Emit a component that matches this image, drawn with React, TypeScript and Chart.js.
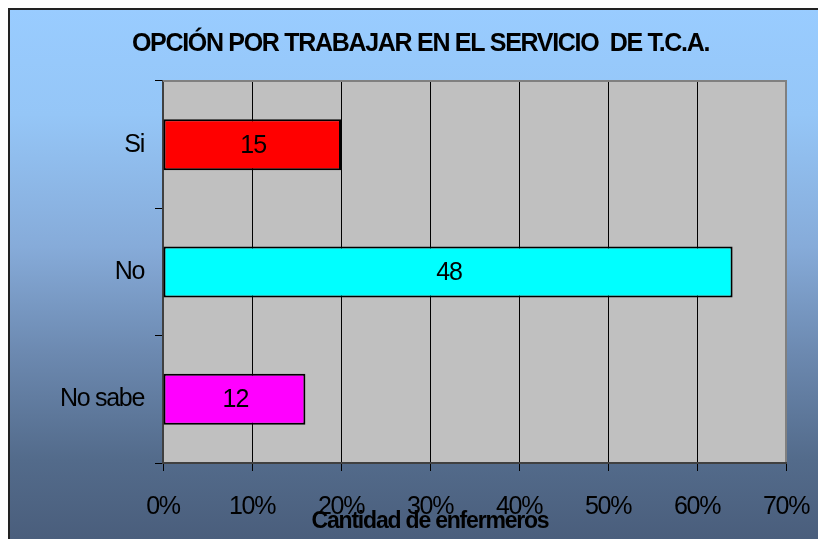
import React, { useEffect, useRef } from "react";
import { Chart, registerables } from "chart.js";

Chart.register(...registerables);

const categories = ["Si", "No", "No sabe"];
const counts = [15, 48, 12];
const percents = [20, 64, 16];
const barColors = ["#FF0000", "#00FFFF", "#FF00FF"];
const titleText = "OPCIÓN POR TRABAJAR EN EL SERVICIO  DE T.C.A.";
const xAxisTitle = "Cantidad de enfermeros";
const xMin = 0;
const xMax = 70;
const xStep = 10;

const FONT = "'Liberation Sans', Arial, sans-serif";
const LS = "-1.3px";

const spacingPlugin = {
  id: "spacing",
  beforeUpdate(chart: any) {
    chart.ctx.letterSpacing = LS;
  },
  beforeLayout(chart: any) {
    chart.ctx.letterSpacing = LS;
  },
  beforeDraw(chart: any) {
    const { ctx, width, height, chartArea } = chart;
    ctx.save();
    const g = ctx.createLinearGradient(0, 0, 0, height);
    g.addColorStop(0, "#99CCFF");
    g.addColorStop(0.2, "#95C6F7");
    g.addColorStop(0.45, "#86ABD9");
    g.addColorStop(0.65, "#6C89B0");
    g.addColorStop(0.85, "#536B8B");
    g.addColorStop(1, "#4A5E7C");
    ctx.fillStyle = g;
    ctx.fillRect(0, 0, width, height);
    ctx.strokeStyle = "#222";
    ctx.lineWidth = 2;
    ctx.strokeRect(1, 1, width + 4, height + 4);
    ctx.fillStyle = "#C0C0C0";
    ctx.fillRect(chartArea.left, chartArea.top, chartArea.right - chartArea.left, chartArea.bottom - chartArea.top);
    ctx.restore();
    ctx.letterSpacing = LS;
  },
  afterDraw(chart: any) {
    const { ctx, chartArea } = chart;
    ctx.save();
    ctx.strokeStyle = "#808080";
    ctx.lineWidth = 2;
    ctx.beginPath();
    ctx.moveTo(chartArea.left, chartArea.top);
    ctx.lineTo(chartArea.right, chartArea.top);
    ctx.lineTo(chartArea.right, chartArea.bottom - 1);
    ctx.stroke();
    const xs = chart.scales.x;
    ctx.letterSpacing = "-1.2px";
    ctx.font = `bold 23px ${FONT}`;
    ctx.fillStyle = "#000";
    ctx.textAlign = "center";
    ctx.textBaseline = "alphabetic";
    ctx.fillText(xAxisTitle, xs.getPixelForValue(30), chartArea.bottom + 65);
    ctx.restore();
  },
  afterDatasetsDraw(chart: any) {
    const { ctx } = chart;
    const meta = chart.getDatasetMeta(0);
    ctx.save();
    ctx.letterSpacing = "-1px";
    ctx.font = `25px ${FONT}`;
    ctx.fillStyle = "#000";
    ctx.textAlign = "center";
    ctx.textBaseline = "middle";
    meta.data.forEach((el: any, i: number) => {
      ctx.fillText(String(counts[i]), (el.x + el.base) / 2 + 1, el.y + 1);
    });
    ctx.restore();
  },
};

export default function App() {
  const canvasRef = useRef<HTMLCanvasElement>(null);
  useEffect(() => {
    const chart = new Chart(canvasRef.current as HTMLCanvasElement, {
      type: "bar",
      data: {
        labels: categories,
        datasets: [
          {
            data: percents,
            backgroundColor: barColors,
            borderColor: "#000",
            borderWidth: 2,
            borderSkipped: false,
            categoryPercentage: 1,
            barPercentage: 0.4,
          },
        ],
      },
      options: {
        indexAxis: "y",
        responsive: false,
        animation: false,
        layout: { padding: { left: 47, right: 32, top: 0, bottom: 0 } },
        plugins: {
          legend: { display: false },
          tooltip: { enabled: false },
          title: {
            display: true,
            text: titleText,
            color: "#000",
            font: { family: FONT, size: 25, weight: "bold" },
            padding: { top: 21, bottom: 22 },
          },
        },
        scales: {
          x: {
            type: "linear",
            min: xMin,
            max: xMax,
            ticks: {
              stepSize: xStep,
              callback: (v: any) => v + "%",
              color: "#000",
              font: { family: FONT, size: 25 },
              padding: 21,
            },
            grid: { color: "#000", lineWidth: 1, tickLength: 8, drawTicks: true },
            border: { display: true, color: "#404040", width: 2 },
            afterFit: (s: any) => {
              s.height = 76;
              s.paddingLeft = 0;
              s.paddingRight = 0;
            },
          },
          y: {
            type: "category",
            ticks: {
              color: "#000",
              font: { family: FONT, size: 25 },
              padding: 11,
            },
            grid: { drawOnChartArea: false, drawTicks: true, tickLength: 8, color: "#000", offset: true },
            border: { display: true, color: "#404040", width: 2 },
            afterFit: (s: any) => {
              s.width = 108;
            },
          },
        },
      } as any,
      plugins: [spacingPlugin],
    });
    return () => chart.destroy();
  }, []);
  return (
    <div style={{ position: "fixed", left: 8, top: 8, width: 810, height: 531 }}>
      <canvas ref={canvasRef} width={810} height={531} style={{ display: "block" }} />
    </div>
  );
}
